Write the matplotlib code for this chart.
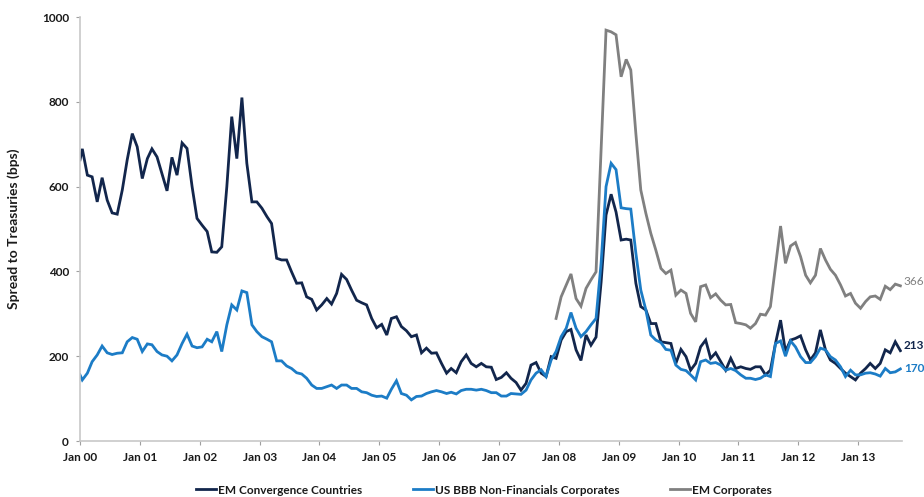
import matplotlib
matplotlib.use("Agg")
import matplotlib.pyplot as plt
import numpy as np
import pandas as pd

plt.rcParams['font.family'] = ['Lato', 'DejaVu Sans']

# ---- data (monthly, Jan 2000 - Sep 2013; first entry is the series start at 1 Jan 2000) ----
start_values_navy = 663
start_values_blue = 156

em_convergence = [
    689, 627, 623, 564, 621, 568, 538, 535, 592, 663, 725, 694,
    619, 666, 689, 670, 631, 590, 669, 627, 703, 690, 600, 525,
    509, 494, 446, 445, 458, 600, 765, 666, 810, 655, 564, 564,
    549, 529, 513, 431, 427, 427, 399, 372, 373, 340, 334, 309,
    321, 336, 323, 348, 393, 381, 356, 332, 326, 321, 289, 267,
    275, 250, 289, 293, 270, 260, 246, 250, 208, 219, 207, 208,
    183, 160, 171, 161, 187, 203, 183, 175, 183, 175, 174, 145,
    150, 161, 148, 138, 120, 136, 179, 185, 160, 152, 199, 195,
    238, 258, 263, 215, 190, 250, 226, 245, 375, 533, 582, 540,
    474, 476, 474, 372, 317, 309, 277, 277, 234, 232, 230, 183,
    216, 199, 167, 183, 222, 238, 195, 208, 187, 167, 195, 171,
    175, 171, 169, 175, 175, 156, 167, 230, 285, 211, 238, 242,
    248, 215, 191, 208, 262, 215, 191, 183, 171, 160, 152, 144,
    160, 171, 183, 171, 183, 215, 208, 234, 213,
]

us_bbb = [
    144, 160, 187, 203, 224, 208, 204, 207, 208, 234, 244, 240,
    211, 229, 227, 211, 203, 200, 189, 203, 230, 252, 224, 220,
    222, 240, 234, 258, 211, 274, 321, 309, 354, 350, 274, 258,
    246, 240, 234, 189, 189, 177, 171, 161, 158, 148, 132, 124,
    124, 128, 132, 124, 132, 132, 124, 124, 116, 114, 108, 105,
    106, 101, 122, 142, 112, 108, 97, 105, 106, 112, 116, 119,
    116, 112, 115, 111, 119, 122, 122, 120, 122, 119, 114, 114,
    106, 106, 112, 111, 110, 120, 144, 160, 168, 152, 191, 211,
    246, 266, 303, 266, 246, 258, 274, 289, 420, 600, 655, 640,
    550, 548, 547, 443, 356, 309, 250, 238, 232, 216, 214, 179,
    169, 166, 156, 144, 187, 191, 183, 185, 179, 167, 171, 166,
    156, 148, 148, 145, 148, 156, 152, 230, 236, 200, 236, 222,
    199, 185, 185, 199, 219, 215, 199, 191, 175, 152, 167, 156,
    156, 160, 161, 158, 153, 171, 161, 163, 170,
]

# EM Corporates starts Dec 2007 (index 95)
em_corporates_start = 95
em_corporates = [
    289, 340, 368, 394, 336, 318, 360, 380, 399, 690, 969, 965,
    958, 859, 900, 875, 725, 592, 537, 490, 450, 407, 395, 403,
    344, 356, 348, 301, 281, 364, 368, 338, 347, 332, 321, 322,
    279, 277, 274, 266, 277, 299, 297, 317, 411, 507, 419, 460,
    468, 435, 391, 373, 391, 454, 427, 405, 391, 368, 342, 348,
    325, 313, 329, 340, 342, 334, 365, 357, 370, 366,
]

series_names = ["EM Convergence Countries", "US BBB Non-Financials Corporates", "EM Corporates"]
end_labels = ["213", "170", "366"]
year_ticks = list(range(2000, 2014))

# ---- build ----
n = len(em_convergence)
months = pd.date_range("2000-01-01", periods=n, freq="MS") + pd.Timedelta(days=14)
dates = pd.DatetimeIndex([pd.Timestamp("2000-01-01")]).append(months)
navy_vals = np.array([start_values_navy] + em_convergence, dtype=float)
blue_vals = np.array([start_values_blue] + us_bbb, dtype=float)
grey_vals = np.full(n, np.nan)
grey_vals[em_corporates_start:em_corporates_start + len(em_corporates)] = em_corporates

NAVY = "#12264c"
BLUE = "#1c7cc6"
GREY = "#808080"

fig = plt.figure(figsize=(9.24, 4.97), dpi=100)
ax = fig.add_axes([80 / 924, 56 / 497, 822 / 924, 424 / 497])

l1, = ax.plot(dates, navy_vals, color=NAVY, lw=2.0, solid_joinstyle="miter")
l2, = ax.plot(dates, blue_vals, color=BLUE, lw=2.0, solid_joinstyle="miter")
l3, = ax.plot(months, grey_vals, color=GREY, lw=2.0, solid_joinstyle="miter")

ax.set_ylim(0, 1000)
ax.set_xlim(pd.Timestamp("2000-01-01"), pd.Timestamp("2013-09-25"))
ax.set_yticks(range(0, 1001, 200))
ax.set_xticks([pd.Timestamp(f"{y}-01-01") for y in year_ticks])
ax.set_xticklabels([f"Jan {y % 100:02d}" for y in year_ticks])

for s in ["top", "right"]:
    ax.spines[s].set_visible(False)
for s in ["left", "bottom"]:
    ax.spines[s].set_color("#c8c8c8")
    ax.spines[s].set_linewidth(1.2)
ax.tick_params(axis="both", direction="out", length=3, color="#a0a0a0",
               labelsize=8.5, labelcolor="#1a1a1a", pad=5)
for lab in ax.get_xticklabels() + ax.get_yticklabels():
    lab.set_fontweight("bold")

ax.set_ylabel("Spread to Treasuries (bps)", fontsize=10, fontweight="bold",
              color="#1a1a1a", labelpad=16)

# end labels
last = months[-1]
ax.annotate(end_labels[0], xy=(last, navy_vals[-1]), xytext=(2.5, 4), textcoords="offset points",
            color=NAVY, fontsize=8.5, fontweight="bold", va="center", annotation_clip=False)
ax.annotate(end_labels[1], xy=(last, blue_vals[-1]), xytext=(2.5, 0), textcoords="offset points",
            color=BLUE, fontsize=8.5, fontweight="bold", va="center", annotation_clip=False)
ax.annotate(end_labels[2], xy=(last, grey_vals[-1]), xytext=(2.5, 3), textcoords="offset points",
            color=GREY, fontsize=8.5, va="center", annotation_clip=False)

leg = fig.legend([l1, l2, l3], series_names, loc="center", ncol=3, frameon=False,
                 bbox_to_anchor=(484 / 924, 1 - 490 / 497), handlelength=1.7,
                 handletextpad=0.15, columnspacing=4.3,
                 prop={"size": 8.5, "weight": "bold"})
for t in leg.get_texts():
    t.set_color("#1a1a1a")

fig.savefig("out.png", dpi=100)
